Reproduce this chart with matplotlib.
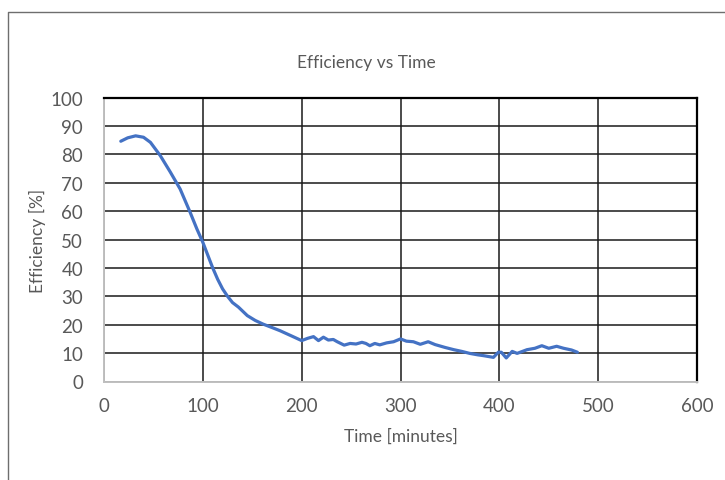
import matplotlib
matplotlib.use("Agg")
import matplotlib.pyplot as plt
from matplotlib.lines import Line2D

plt.rcParams['font.family'] = ['Lato', 'DejaVu Sans']

time_min = [17, 24, 32, 40, 47, 57, 67, 77, 87, 94, 100, 105, 110, 115, 120,
            125, 130, 136, 145, 153, 161, 170, 178, 190, 200, 206, 212, 217,
            222, 227, 232, 236, 243, 249, 255, 261, 265, 269, 274, 279, 286,
            293, 300, 306, 313, 320, 328, 335, 345, 354, 362, 370, 378, 384,
            394, 399, 402, 407, 413, 418, 428, 436, 443, 450, 458, 465, 473, 479]
efficiency = [84.6, 85.8, 86.5, 86.0, 84.2, 79.5, 73.8, 67.8, 59.7, 53.7, 49.0,
              44.5, 40.0, 36.0, 32.6, 30.0, 27.8, 26.2, 23.2, 21.5, 20.2, 19.0,
              17.9, 16.0, 14.4, 15.2, 15.8, 14.4, 15.6, 14.6, 14.8, 14.0, 12.8,
              13.4, 13.2, 13.8, 13.4, 12.6, 13.4, 12.9, 13.6, 14.0, 15.0, 14.2,
              14.0, 13.1, 14.0, 13.0, 12.0, 11.2, 10.6, 9.9, 9.4, 9.1, 8.5,
              10.3, 10.3, 8.3, 10.6, 9.9, 11.2, 11.7, 12.6, 11.7, 12.4, 11.7,
              11.1, 10.3]
x_ticks = [0, 100, 200, 300, 400, 500, 600]
y_ticks = [0, 10, 20, 30, 40, 50, 60, 70, 80, 90, 100]

W, H = 725, 481
fig = plt.figure(figsize=(W / 100, H / 100), dpi=100)
ax = fig.add_axes([104 / W, 1 - 382.5 / H, (697 - 104) / W, (382.5 - 98.5) / H])

ax.plot(time_min, efficiency, color='#4472C4', linewidth=2.3, solid_joinstyle='round',
        solid_capstyle='round', zorder=3)

ax.set_xlim(0, 600)
ax.set_ylim(0, 100)
ax.set_xticks(x_ticks)
ax.set_yticks(y_ticks)
ax.grid(True, color='#1a1a1a', linewidth=1.1, zorder=1)
ax.set_axisbelow(True)
ax.tick_params(length=0, labelsize=13.5, labelcolor='#595959')
ax.tick_params(axis='y', pad=15)
ax.tick_params(axis='x', pad=11)

for side in ['left', 'bottom']:
    ax.spines[side].set_color('#bfbfbf')
    ax.spines[side].set_linewidth(1.4)
for side in ['top', 'right']:
    ax.spines[side].set_color('#000000')
    ax.spines[side].set_linewidth(1.6)

ax.set_xlabel('Time [minutes]', fontsize=12.5, color='#595959', labelpad=10)
ax.set_ylabel('Efficiency [%]', fontsize=12.5, color='#595959', labelpad=3)

fig.text(366 / W, 1 - 63 / H, 'Efficiency vs Time', ha='center', va='center',
         fontsize=12.5, color='#595959')

# chart area border (left and top edges visible)
fig.add_artist(Line2D([8 / W, 8 / W, 1.0], [0.0, 1 - 12.5 / H, 1 - 12.5 / H],
                      transform=fig.transFigure, color='#6e6e6e', linewidth=1.0))

fig.savefig('out.png', dpi=100, facecolor='white')
